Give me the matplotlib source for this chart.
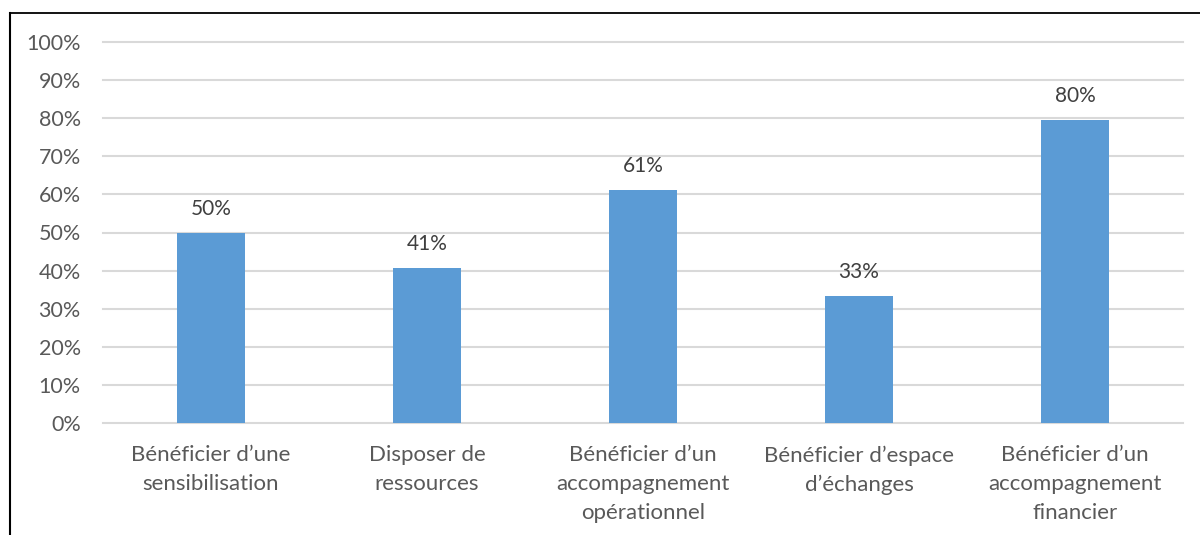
import matplotlib
matplotlib.use("Agg")
import matplotlib.pyplot as plt
from matplotlib.lines import Line2D

categories = [
    "Bénéficier d’une\nsensibilisation",
    "Disposer de\nressources",
    "Bénéficier d’un\naccompagnement\nopérationnel",
    "Bénéficier d’espace\nd’échanges",
    "Bénéficier d’un\naccompagnement\nfinancier",
]
values = [0.50, 0.407, 0.611, 0.333, 0.796]
labels = ["50%", "41%", "61%", "33%", "80%"]
yticks = [0, 0.1, 0.2, 0.3, 0.4, 0.5, 0.6, 0.7, 0.8, 0.9, 1.0]
ytick_labels = ["0%", "10%", "20%", "30%", "40%", "50%", "60%", "70%", "80%", "90%", "100%"]

plt.rcParams['font.family'] = ['Lato', 'DejaVu Sans']

fig = plt.figure(figsize=(12, 5.35), dpi=100)
ax = fig.add_axes([103/1200, 1 - 423/535, 1080/1200, (423 - 42)/535])

x = list(range(len(categories)))
ax.bar(x, values, width=0.315, color="#5B9BD5", zorder=3)
for xi, v, lab in zip(x, values, labels):
    ax.annotate(lab, (xi, v), xytext=(0, 10), textcoords="offset points",
                ha="center", va="bottom", fontsize=15, color="#404040")

ax.set_xlim(-0.5, len(categories) - 0.5)
ax.set_ylim(0, 1.0)
ax.set_yticks(yticks)
ax.set_yticklabels(ytick_labels)
ax.set_xticks(x)
ax.set_xticklabels(categories, linespacing=1.55)
ax.tick_params(axis="y", length=0, pad=16, labelsize=15.5, labelcolor="#595959")
ax.tick_params(axis="x", length=0, pad=16, labelsize=16, labelcolor="#595959")
for s in ax.spines.values():
    s.set_visible(False)
for t in yticks:
    ax.axhline(t, color="#D9D9D9", lw=1.5, zorder=1, clip_on=False)

ytop = 1 - 13/535
fig.add_artist(Line2D([10/1200, 1], [ytop, ytop], color="black", lw=1.3))
fig.add_artist(Line2D([10/1200, 10/1200], [0, ytop], color="black", lw=1.5))

fig.savefig("out.png", dpi=100)
